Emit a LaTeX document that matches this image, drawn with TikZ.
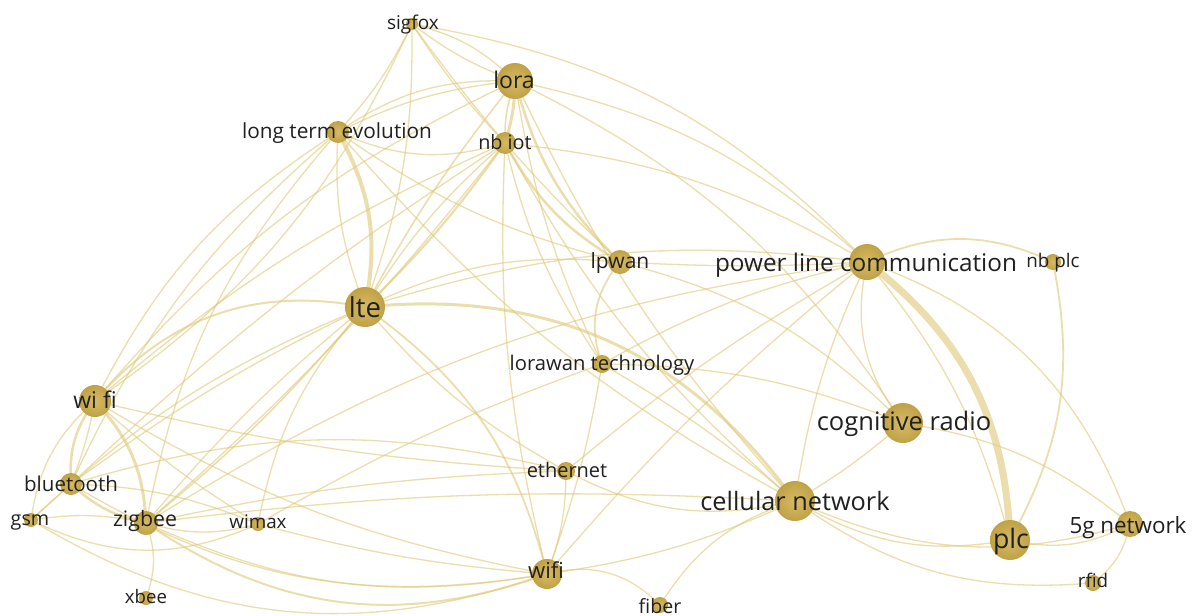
\documentclass[tikz,border=0pt]{standalone}
\usepackage{fontspec}
\setmainfont{Open Sans}
\definecolor{edgecol}{RGB}{224,200,118}
\definecolor{nodein}{RGB}{214,187,102}
\definecolor{nodeout}{RGB}{192,161,70}
\definecolor{labcol}{RGB}{32,32,32}
% link between two keywords: [width]{from}{to}{bend angle}
\newcommand\lnk[4][1.3]{\draw[lnk, line width=#1pt] (#2) to[bend left=#4] (#3);}
% keyword bubble: {name}{radius}
\newcommand\kwdot[2]{\node[kwball, minimum size=#2*2pt] (#1-c) at (#1) {};}
% keyword label: {name}{text}{size}{x}{baseline y}
\newcommand\kwtext[5]{\node[kwlbl, font=\fontsize{#3}{#3}\selectfont] (#1-t) at (#4,#5) {#2};}
\begin{document}
\begin{tikzpicture}[x=1pt,y=-1pt,
  lnk/.style={draw=edgecol, draw opacity=0.6, line cap=round},
  kwball/.style={circle, inner sep=0pt, draw=none, shading=radial, inner color=nodein, outer color=nodeout},
  kwlbl/.style={anchor=base, inner sep=0pt, text=labcol}]
\fill[white] (0,0) rectangle (1192,616);
\useasboundingbox (0,0) rectangle (1192,616);

% keyword positions
\coordinate (sig)     at (412,24);
\coordinate (lora)    at (515,81);
\coordinate (lte4)    at (338,132);
\coordinate (nbiot)   at (505,143);
\coordinate (lpwan)   at (620,262);
\coordinate (plcom)   at (867,262);
\coordinate (nbplc)   at (1053,262);
\coordinate (lte)     at (365,307);
\coordinate (lorawan) at (602,364);
\coordinate (wifitwo) at (95,401);
\coordinate (cog)     at (903,423);
\coordinate (eth)     at (566,471);
\coordinate (bt)      at (71,484);
\coordinate (gsm)     at (31,520);
\coordinate (zig)     at (146,523);
\coordinate (wimax)   at (258,524);
\coordinate (xbee)    at (146,598);
\coordinate (wifi)    at (547,574);
\coordinate (fiber)   at (660,605);
\coordinate (cell)    at (795,501);
\coordinate (plc)     at (1010,540);
\coordinate (fiveg)   at (1130,524);
\coordinate (rfid)    at (1093,583);

% links: upper cluster
\lnk{sig}{lora}{15}
\lnk{sig}{lora}{-8}
\lnk{sig}{nbiot}{-5}
\lnk{sig}{lte4}{8}
\lnk{sig}{lte}{10}
\lnk{sig}{wifitwo}{15}
\lnk{sig}{lpwan}{-5}
\lnk{sig}{plcom}{18}
\lnk[3]{lora}{nbiot}{8}
\lnk[1.6]{lora}{nbiot}{-10}
\lnk{lte4}{lora}{18}
\lnk{lte4}{lora}{10}
\lnk[2.5]{lora}{lpwan}{-15}
\lnk{lora}{plcom}{15}
\lnk[1.6]{lora}{lte}{-5}
\lnk{lora}{cog}{15}
\lnk{lora}{cell}{-8}
\lnk{lora}{lorawan}{-8}
\lnk{wifitwo}{lora}{12}
\lnk{lte4}{nbiot}{-20}
\lnk[4]{lte4}{lte}{20}
\lnk{lte4}{lte}{-12}
\lnk{wifitwo}{lte4}{15}
\lnk{zig}{lte4}{15}
\lnk{bt}{lte4}{12}
\lnk{lte4}{lpwan}{-10}
\lnk{lte4}{cell}{-10}
\lnk[2.2]{nbiot}{lte}{5}
\lnk{nbiot}{lte}{-8}
\lnk[2.5]{nbiot}{lpwan}{-15}
\lnk{nbiot}{plcom}{12}
\lnk{nbiot}{cell}{-10}
\lnk{nbiot}{lorawan}{-10}
\lnk{zig}{nbiot}{-5}
\lnk{wifitwo}{nbiot}{8}
\lnk{bt}{nbiot}{5}
\lnk{nbiot}{wifi}{-8}
\lnk{lte}{lpwan}{15}
\lnk[1.8]{lpwan}{lorawan}{-30}
\lnk{lpwan}{plcom}{-3}
\lnk{lpwan}{cog}{15}

% links: middle
\lnk[3]{lte}{cell}{30}
\lnk[1.8]{lte}{wifi}{20}
\lnk{lte}{eth}{-10}
\lnk{lte}{plcom}{12}
\lnk[2]{wifitwo}{lte}{30}
\lnk{bt}{lte}{5}
\lnk[1.6]{zig}{lte}{-5}
\lnk{zig}{lte}{5}
\lnk{gsm}{lte}{10}
\lnk{wimax}{lte}{15}
\lnk{lorawan}{wifi}{5}
\lnk{lorawan}{cog}{10}
\lnk{lorawan}{cell}{5}
\lnk{lorawan}{plcom}{8}
\lnk{wimax}{lorawan}{5}

% links: right cluster
\lnk[7]{plcom}{plc}{25}
\lnk{plcom}{plc}{12}
\lnk[1.8]{plcom}{nbplc}{25}
\lnk[1.8]{nbplc}{plc}{20}
\lnk{plcom}{cog}{-25}
\lnk{plcom}{fiveg}{25}
\lnk{plcom}{eth}{-5}
\lnk{plcom}{wifi}{-5}
\lnk{plcom}{cell}{-8}
\lnk{cog}{fiveg}{15}
\lnk{cog}{cell}{5}
\lnk{cell}{plc}{-20}
\lnk{cell}{fiveg}{-20}
\lnk{cell}{rfid}{-20}
\lnk{plc}{fiveg}{-20}
\lnk{fiveg}{rfid}{20}

% links: lower middle
\lnk{fiber}{cell}{20}
\lnk{wifi}{fiber}{30}
\lnk{wifi}{cell}{-8}
\lnk{eth}{cell}{-20}
\lnk{eth}{wifi}{10}
\lnk{bt}{eth}{15}
\lnk{wifitwo}{eth}{-5}
\lnk{zig}{plcom}{12}

% links: left cluster
\lnk[2.5]{wifitwo}{bt}{-20}
\lnk{wifitwo}{bt}{5}
\lnk[3]{wifitwo}{zig}{20}
\lnk[2.5]{bt}{zig}{-15}
\lnk{wifitwo}{gsm}{-20}
\lnk{bt}{gsm}{0}
\lnk{gsm}{zig}{10}
\lnk{zig}{xbee}{20}
\lnk{zig}{wimax}{-15}
\lnk{gsm}{wimax}{-25}
\lnk{bt}{wimax}{10}
\lnk{wifitwo}{wimax}{-5}
\lnk{wifitwo}{wifi}{-10}
\lnk{bt}{wifi}{-20}
\lnk[2]{zig}{wifi}{-27}
\lnk{zig}{wifi}{-17}
\lnk{gsm}{wifi}{-25}
\lnk{wimax}{wifi}{-5}
\lnk{zig}{cell}{5}
\lnk{zig}{eth}{5}

% keyword bubbles
\kwdot{sig}{6}
\kwdot{lora}{18}
\kwdot{lte4}{11}
\kwdot{nbiot}{11}
\kwdot{lpwan}{12}
\kwdot{plcom}{18}
\kwdot{nbplc}{8}
\kwdot{lte}{20}
\kwdot{lorawan}{9}
\kwdot{wifitwo}{16}
\kwdot{cog}{20}
\kwdot{eth}{9}
\kwdot{bt}{11}
\kwdot{gsm}{7}
\kwdot{zig}{12}
\kwdot{wimax}{7}
\kwdot{xbee}{7}
\kwdot{wifi}{15}
\kwdot{fiber}{8}
\kwdot{cell}{20}
\kwdot{plc}{20}
\kwdot{fiveg}{13}
\kwdot{rfid}{8}

% keyword labels
\kwtext{sig}{sigfox}{19}{413}{29}
\kwtext{lora}{lora}{23}{514}{88}
\kwtext{lte4}{long term evolution}{20.8}{337}{138}
\kwtext{nbiot}{nb iot}{19.8}{505}{149}
\kwtext{lpwan}{lpwan}{21}{620}{268}
\kwtext{plcom}{power line communication}{24.3}{866}{271}
\kwtext{nbplc}{nb plc}{18.8}{1053}{267}
\kwtext{lte}{lte}{27.5}{365}{317}
\kwtext{lorawan}{lorawan technology}{20.2}{602}{370}
\kwtext{wifitwo}{wi fi}{23}{95}{408}
\kwtext{cog}{cognitive radio}{25.5}{904}{430}
\kwtext{eth}{ethernet}{20}{567}{477}
\kwtext{bt}{bluetooth}{20.5}{71}{491}
\kwtext{gsm}{gsm}{19.7}{30}{525}
\kwtext{zig}{zigbee}{21.3}{145}{526}
\kwtext{wimax}{wimax}{18.8}{258}{528}
\kwtext{xbee}{xbee}{18.6}{146}{603}
\kwtext{wifi}{wifi}{22}{546}{578}
\kwtext{fiber}{fiber}{19.6}{660}{613}
\kwtext{cell}{cellular network}{25.3}{795}{510}
\kwtext{plc}{plc}{26.7}{1011}{548}
\kwtext{fiveg}{5g network}{22.4}{1128}{533}
\kwtext{rfid}{rfid}{18.8}{1093}{587}
\end{tikzpicture}
\end{document}
